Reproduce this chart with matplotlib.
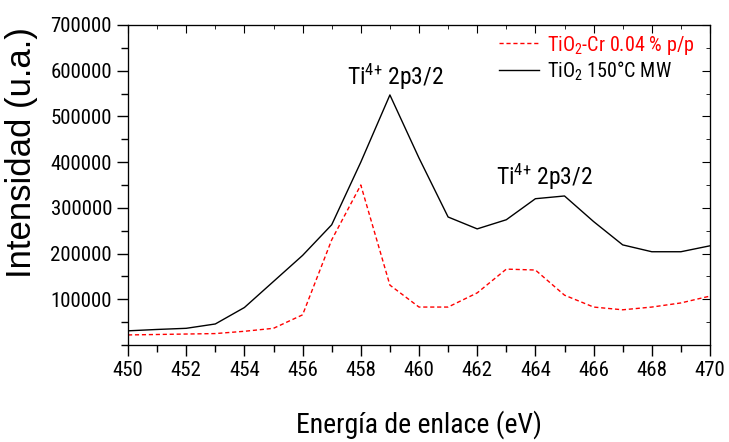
import numpy as np
import matplotlib
matplotlib.use("Agg")
import matplotlib.pyplot as plt
from matplotlib.ticker import MultipleLocator

plt.rcParams['font.family'] = ['Roboto Condensed', 'DejaVu Sans']
plt.rcParams['mathtext.fontset'] = 'custom'
plt.rcParams['mathtext.rm'] = 'Roboto Condensed'
plt.rcParams['mathtext.it'] = 'Roboto Condensed'
plt.rcParams['mathtext.default'] = 'rm'

# Binding energy grid (eV)
energy = np.arange(450, 471, 1)

# TiO2 150°C MW
tio2_mw = [31000, 34000, 36500, 46000, 82000, 139000, 196000, 263000, 400000,
           547000, 409000, 280000, 254000, 274000, 320000, 326000, 270000,
           219000, 204000, 204000, 217000]

# TiO2-Cr 0.04 % p/p
tio2_cr = [22000, 23000, 24000, 25000, 30000, 36500, 66000, 230000, 350000,
           131000, 83000, 83000, 114000, 166000, 164000, 109000, 83000,
           77000, 83000, 92000, 107000]

fig = plt.figure(figsize=(7.29, 4.42), dpi=100)
ax = fig.add_axes([128/729, 1-345/442, 582/729, 320/442])

ax.plot(energy, tio2_cr, color='red', lw=1.0, ls=(0, (3, 2)),
        label=r'TiO$_2$-Cr 0.04 % p/p')
ax.plot(energy, tio2_mw, color='black', lw=1.0, label=r'TiO$_2$ 150°C MW')

ax.set_xlim(450, 470)
ax.set_ylim(0, 700000)
ax.xaxis.set_major_locator(MultipleLocator(2))
ax.xaxis.set_minor_locator(MultipleLocator(1))
ax.set_yticks(np.arange(100000, 700001, 100000))
ax.yaxis.set_minor_locator(MultipleLocator(50000))
ax.tick_params(which='both', direction='out', labelsize=15, top=False, right=False)
ax.tick_params(which='major', length=8, width=1)
ax.tick_params(which='minor', length=5, width=1)

# inward ticks on the top and right frame
ax2 = ax.twinx()
ax2.set_ylim(ax.get_ylim())
ax2.set_yticks(ax.get_yticks())
ax2.yaxis.set_minor_locator(MultipleLocator(50000))
ax2.tick_params(which='both', direction='in', labelright=False)
ax2.tick_params(which='major', length=6)
ax2.tick_params(which='minor', length=3)
ax3 = ax.twiny()
ax3.set_xlim(ax.get_xlim())
ax3.xaxis.set_major_locator(MultipleLocator(2))
ax3.xaxis.set_minor_locator(MultipleLocator(1))
ax3.tick_params(which='both', direction='in', labeltop=False)
ax3.tick_params(which='major', length=6)
ax3.tick_params(which='minor', length=3)

ax.set_xlabel('Energía de enlace (eV)', fontsize=20, labelpad=22)
ax.set_ylabel('Intensidad (u.a.)', fontsize=25, family=['Liberation Sans', 'DejaVu Sans'])
ax.yaxis.set_label_coords(-0.155, 0.60)

ax.text(459.2, 553000, r'Ti$^{4{+}}$ 2p3/2', fontsize=17, ha='center', va='bottom')
ax.text(464.3, 335000, r'Ti$^{4{+}}$ 2p3/2', fontsize=17, ha='center', va='bottom')

leg = ax.legend(loc='upper right', bbox_to_anchor=(1.005, 1.03), frameon=False,
                fontsize=14.5, handlelength=2.0, handletextpad=0.4, labelspacing=0.15)
for txt, c in zip(leg.get_texts(), ['red', 'black']):
    txt.set_color(c)

fig.savefig('out.png', dpi=100)
